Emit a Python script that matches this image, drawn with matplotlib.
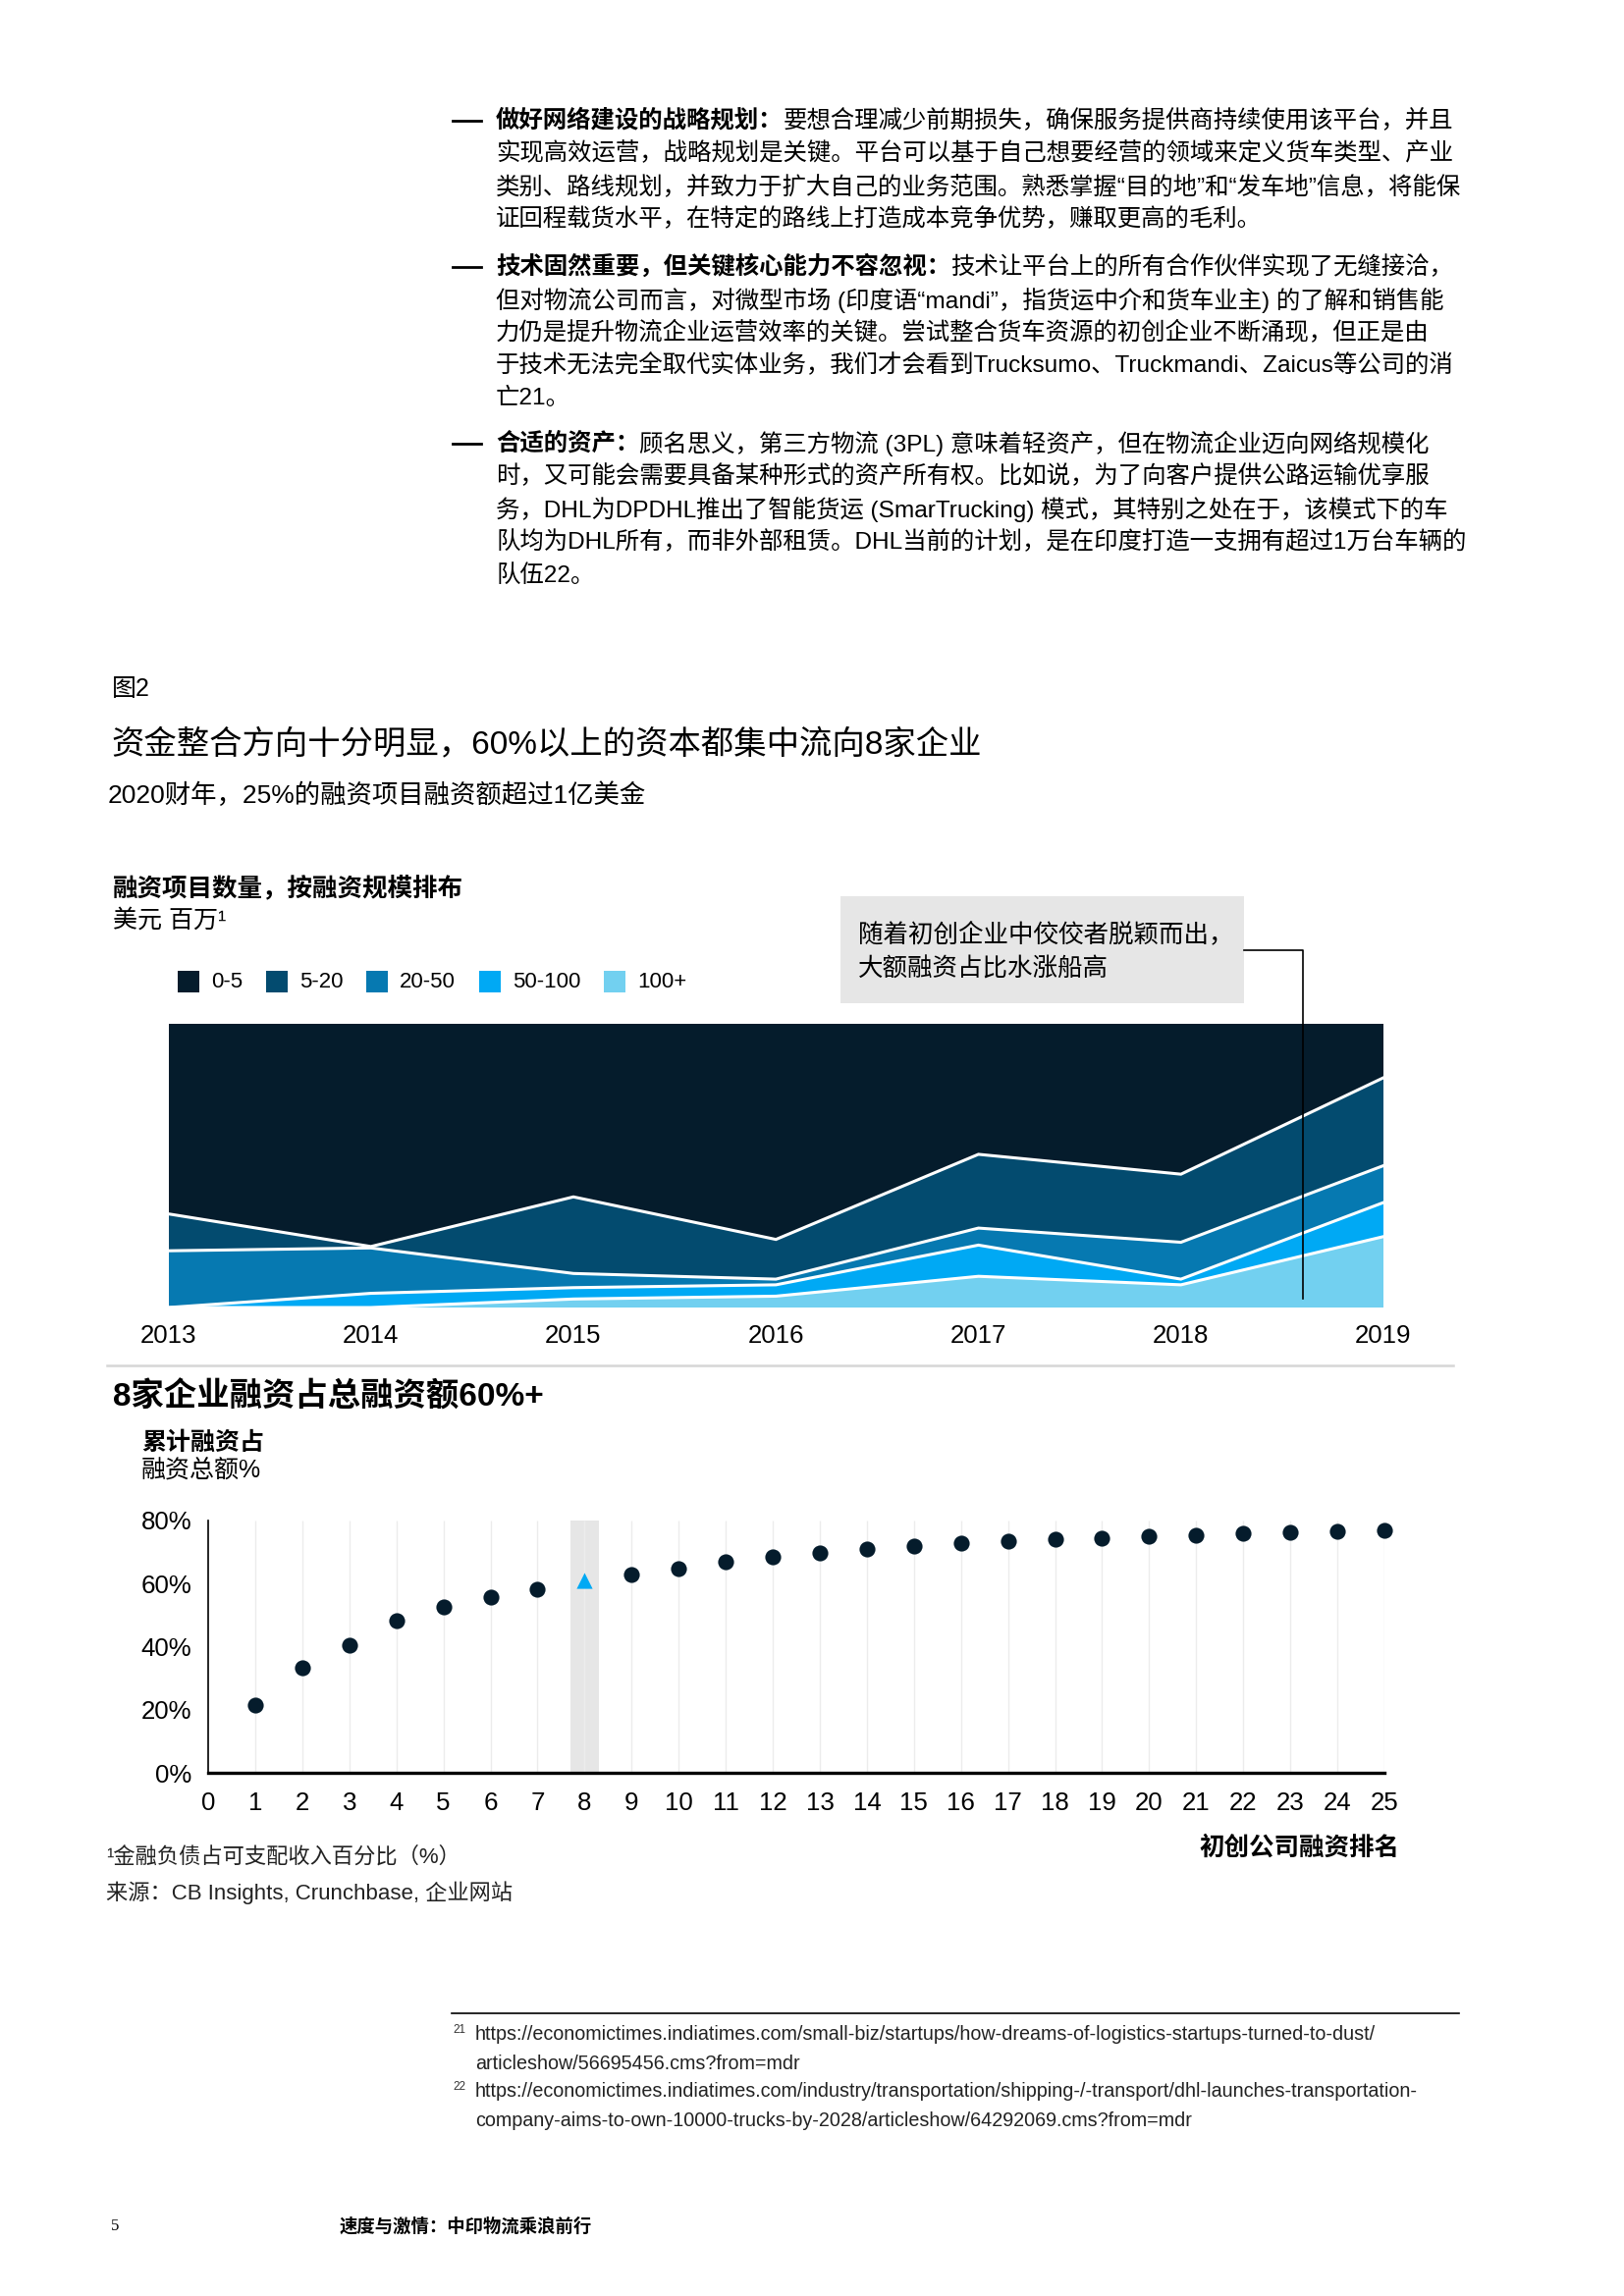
import numpy as np
import matplotlib.pyplot as plt
from matplotlib.patches import Rectangle

W, H = 1654, 2339
DPI = 200

# Latin glyphs from Liberation Sans, CJK falls through to Noto
plt.rcParams['font.family'] = ['Liberation Sans', 'Noto Sans CJK SC', 'DejaVu Sans']
LATIN = ['Liberation Sans', 'DejaVu Sans']

# stacked area: share of funding rounds by size (USD mn), %
YEARS = [2013, 2014, 2015, 2016, 2017, 2018, 2019]
SHARE_0_5 = [67, 78.5, 61, 76, 46, 53, 19]
SHARE_5_20 = [13, 0.5, 27, 14, 26, 24, 31]
SHARE_20_50 = [20, 16, 5, 2, 6, 13, 13]
SHARE_50_100 = [0, 5, 4, 4, 11, 2, 12]
SHARE_100_PLUS = [0, 0, 3, 4, 11, 8, 25]
SIZE_LABELS = ['0-5', '5-20', '20-50', '50-100', '100+']
SIZE_COLORS = ['#051c2c', '#034b6f', '#0679b1', '#00a9f4', '#72d0f0']

# cumulative share of total funding by startup rank
RANKS = list(range(1, 26))
CUM_SHARE = [21.5, 33.2, 40.5, 48.3, 52.5, 55.6, 58.2, 60.9, 63.0, 64.9,
             66.9, 68.6, 69.6, 71.0, 72.0, 72.7, 73.5, 74.0, 74.5, 75.0,
             75.4, 75.8, 76.3, 76.7, 77.0]
HIGHLIGHT_RANK = 8
Y_TICKS = [0, 20, 40, 60, 80]

PARAGRAPHS = [
    ['做好网络建设的战略规划：', '要想合理减少前期损失，确保服务提供商持续使用该平台，并且',
     '实现高效运营，战略规划是关键。平台可以基于自己想要经营的领域来定义货车类型、产业',
     '类别、路线规划，并致力于扩大自己的业务范围。熟悉掌握“目的地”和“发车地”信息，将能保',
     '证回程载货水平，在特定的路线上打造成本竞争优势，赚取更高的毛利。'],
    ['技术固然重要，但关键核心能力不容忽视：', '技术让平台上的所有合作伙伴实现了无缝接洽，',
     '但对物流公司而言，对微型市场 (印度语“mandi”，指货运中介和货车业主) 的了解和销售能',
     '力仍是提升物流企业运营效率的关键。尝试整合货车资源的初创企业不断涌现，但正是由',
     '于技术无法完全取代实体业务，我们才会看到Trucksumo、Truckmandi、Zaicus等公司的消',
     '亡21。'],
    ['合适的资产：', '顾名思义，第三方物流 (3PL) 意味着轻资产，但在物流企业迈向网络规模化',
     '时，又可能会需要具备某种形式的资产所有权。比如说，为了向客户提供公路运输优享服',
     '务，DHL为DPDHL推出了智能货运 (SmarTrucking) 模式，其特别之处在于，该模式下的车',
     '队均为DHL所有，而非外部租赁。DHL当前的计划，是在印度打造一支拥有超过1万台车辆的',
     '队伍22。'],
]
PARA_TOPS = [123, 272, 452]

FOOTNOTES = [
    ('21', ['https://economictimes.indiatimes.com/small-biz/startups/how-dreams-of-logistics-startups-turned-to-dust/',
            'articleshow/56695456.cms?from=mdr']),
    ('22', ['https://economictimes.indiatimes.com/industry/transportation/shipping-/-transport/dhl-launches-transportation-',
            'company-aims-to-own-10000-trucks-by-2028/articleshow/64292069.cms?from=mdr']),
]


def rect(x0, y0, x1, y1):
    return [x0 / W, 1 - y1 / H, (x1 - x0) / W, (y1 - y0) / H]


fig = plt.figure(figsize=(W / DPI, H / DPI), dpi=DPI)
fig.patch.set_facecolor('white')

# overlay in pixel coordinates for page text
ov = fig.add_axes([0, 0, 1, 1], zorder=10)
ov.set_xlim(0, W)
ov.set_ylim(H, 0)
ov.axis('off')


def txt(x, y, s, size, weight='normal', ha='left', family=None, color='#000000'):
    kw = {}
    if family is not None:
        kw['family'] = family
    return ov.text(x, y, s, fontsize=size, fontweight=weight, ha=ha, va='center',
                   color=color, **kw)


# body paragraphs
for top, para in zip(PARA_TOPS, PARAGRAPHS):
    ov.plot([461, 490], [top, top], color='black', lw=1.0)
    t = txt(505, top, para[0], 8.8, weight='bold')
    ov.annotate(para[1], xy=(1, 0.5), xycoords=t, va='center', ha='left', fontsize=8.8)
    for i, line in enumerate(para[2:]):
        txt(505, top + 33.5 * (i + 1), line, 8.8)

# headings
txt(114, 702, '图2', 9)
txt(113, 758, '资金整合方向十分明显，60%以上的资本都集中流向8家企业', 12)
txt(110, 810, '2020财年，25%的融资项目融资额超过1亿美金', 9.5)

txt(115, 905, '融资项目数量，按融资规模排布', 9.2, weight='bold')
txt(115, 938, '美元 百万¹', 9)

# legend
leg_x = [181, 271, 373, 488, 615]
for x, lab, col in zip(leg_x, SIZE_LABELS, SIZE_COLORS):
    ov.add_patch(Rectangle((x, 989), 22, 22, color=col, lw=0))
    txt(x + 34, 1000, lab, 8, family=LATIN)

# annotation box and connector
ov.add_patch(Rectangle((856, 913), 411, 109, color='#e6e6e6', lw=0))
txt(874, 952, '随着初创企业中佼佼者脱颖而出，', 9.2)
txt(874, 987, '大额融资占比水涨船高', 9.2)
ov.plot([1267, 1327, 1327], [968, 968, 1323], color='black', lw=0.6)

# stacked area chart
ax1 = fig.add_axes(rect(171.5, 1043, 1409, 1332))
layers = [SHARE_100_PLUS, SHARE_50_100, SHARE_20_50, SHARE_5_20, SHARE_0_5]
ax1.stackplot(YEARS, *layers, colors=SIZE_COLORS[::-1], lw=0)
cum = np.cumsum(np.array(layers, dtype=float), axis=0)
for row in cum[:-1]:
    ax1.plot(YEARS, row, color='white', lw=1.1, solid_joinstyle='miter')
ax1.set_xlim(YEARS[0], YEARS[-1])
ax1.set_ylim(0, 100)
ax1.set_yticks([])
ax1.set_xticks(YEARS)
ax1.set_xticklabels([str(y) for y in YEARS], family=LATIN, fontsize=9.3)
ax1.tick_params(axis='x', length=0, pad=6)
for sp in ax1.spines.values():
    sp.set_visible(False)

# separator
ov.plot([109, 1480], [1391, 1391], color='#d6d6d6', lw=0.9)

txt(115, 1423, '8家企业融资占总融资额60%+', 12, weight='bold')
txt(144, 1470, '累计融资占', 9, weight='bold')
txt(144, 1498, '融资总额%', 9)

# cumulative share dot chart
ax2 = fig.add_axes(rect(212, 1549, 1410, 1806))
ax2.axvspan(HIGHLIGHT_RANK - 0.3, HIGHLIGHT_RANK + 0.3, color='#e6e6e6', lw=0, zorder=0)
ax2.vlines(RANKS, 0, 80, color='#ececec', lw=0.5, zorder=1)
ranks = np.array(RANKS)
share = np.array(CUM_SHARE)
normal = ranks != HIGHLIGHT_RANK
ax2.scatter(ranks[normal], share[normal], s=34, color='#051c2c', marker='o',
            lw=0, zorder=3, clip_on=False)
ax2.scatter(ranks[~normal], share[~normal], s=34, color='#00a9f4', marker='^',
            lw=0, zorder=3, clip_on=False)
ax2.set_xlim(0, 25)
ax2.set_ylim(0, 80)
ax2.set_xticks(range(0, 26))
ax2.set_xticklabels([str(i) for i in range(0, 26)], family=LATIN, fontsize=9.3)
ax2.set_yticks(Y_TICKS)
ax2.set_yticklabels([f'{v}%' for v in Y_TICKS], family=LATIN, fontsize=9.3)
ax2.tick_params(axis='x', length=0, pad=7)
ax2.tick_params(axis='y', length=0, pad=6)
ax2.spines['top'].set_visible(False)
ax2.spines['right'].set_visible(False)
ax2.spines['left'].set_linewidth(0.6)
ax2.spines['bottom'].set_linewidth(1.2)
ax2.patch.set_alpha(0)

txt(1425, 1882, '初创公司融资排名', 9.2, weight='bold', ha='right')
txt(108, 1892, '¹金融负债占可支配收入百分比（%）', 8, color='#222222')
txt(108, 1928, '来源：CB Insights, Crunchbase, 企业网站', 8, color='#222222')

# page footnotes
ov.plot([460, 1486], [2051, 2051], color='black', lw=0.6)
fy = 2073
for num, lines in FOOTNOTES:
    txt(461, fy - 5, num, 4.2, family=LATIN, color='#333333')
    for line in lines:
        txt(484, fy, line, 7.1, family=LATIN, color='#222222')
        fy += 29

txt(113, 2268, '5', 6, family=['Liberation Serif', 'DejaVu Serif'])
txt(346, 2268, '速度与激情：中印物流乘浪前行', 6.6, weight='bold')

fig.savefig('out.png', dpi=DPI)
